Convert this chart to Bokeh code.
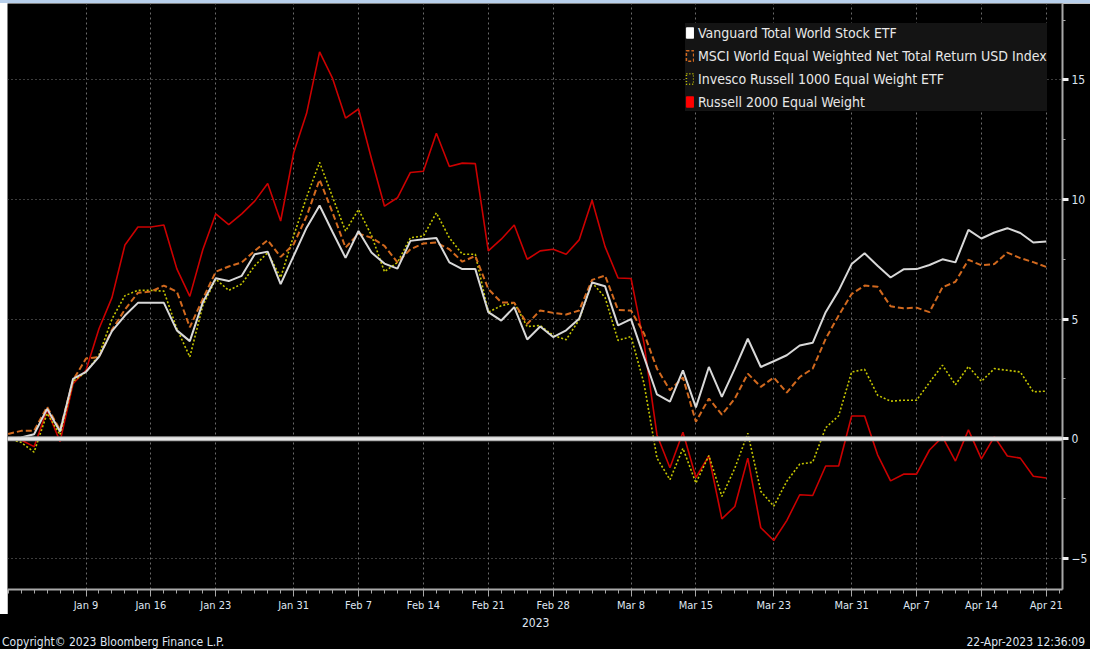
import pandas as pd
from bokeh.plotting import figure
from bokeh.layouts import column, row
from bokeh.models import Range1d, FixedTicker, Span, Legend, LegendItem, Div
from bokeh.embed import file_html
from bokeh.resources import INLINE

# ---------------- data ----------------
trade_dates = [d.strftime("%Y-%m-%d") for d in pd.bdate_range("2022-12-30", "2023-04-21")]

vanguard = [0.0, 0.05, 0.19, 1.25, 0.3, 2.5, 2.8, 3.42, 4.5, 5.15,
            5.68, 5.68, 5.68, 4.53, 4.08, 5.7, 6.71, 6.59, 6.81, 7.71,
            7.82, 6.46, 7.64, 8.82, 9.75, 8.64, 7.56, 8.68, 7.78, 7.32,
            7.11, 8.27, 8.34, 8.39, 7.37, 7.09, 7.09, 5.29, 4.94, 5.5,
            4.15, 4.69, 4.25, 4.53, 5.01, 6.53, 6.37, 4.74, 5.0, 3.42,
            1.85, 1.55, 2.86, 1.31, 3.0, 1.75, 2.93, 4.18, 3.0, 3.24,
            3.49, 3.9, 4.01, 5.29, 6.19, 7.3, 7.75, 7.23, 6.74, 7.08,
            7.09, 7.26, 7.5, 7.37, 8.73, 8.37, 8.62, 8.8, 8.6, 8.2, 8.24]

msci_eq = [0.2, 0.33, 0.33, 1.34, 0.37, 2.45, 3.35, 3.42, 4.55, 5.4,
           6.1, 6.15, 6.4, 6.15, 4.66, 5.84, 6.98, 7.2, 7.37, 7.85,
           8.3, 7.6, 8.13, 9.3, 10.83, 9.45, 7.99, 8.57, 8.4, 8.06,
           7.37, 7.92, 8.16, 8.2, 7.92, 7.4, 7.64, 6.26, 5.7, 5.68,
           4.8, 5.36, 5.26, 5.19, 5.36, 6.64, 6.82, 5.38, 5.36, 4.4,
           2.93, 2.03, 2.56, 0.71, 1.68, 1.01, 1.68, 2.72, 2.17, 2.56,
           1.93, 2.58, 2.93, 4.18, 5.15, 6.05, 6.4, 6.35, 5.54, 5.45,
           5.48, 5.29, 6.33, 6.56, 7.48, 7.25, 7.3, 7.78, 7.55, 7.38, 7.18]

invesco_r1000 = [0.0, -0.15, -0.56, 1.06, 0.16, 2.4, 2.79, 3.5, 5.0, 5.98,
                 6.2, 6.2, 6.17, 4.6, 3.42, 5.56, 6.67, 6.2, 6.47, 7.23,
                 7.78, 6.74, 8.48, 10.1, 11.55, 10.1, 8.68, 9.58, 8.5, 6.98,
                 7.37, 8.4, 8.47, 9.44, 8.4, 7.71, 7.71, 5.29, 5.56, 5.68,
                 4.69, 4.73, 4.32, 4.14, 4.97, 6.53, 5.9, 4.11, 4.27, 2.31,
                 -0.81, -1.71, -0.4, -1.85, -0.7, -2.41, -1.23, 0.23, -2.2, -2.82,
                 -1.78, -1.06, -0.98, 0.46, 0.96, 2.79, 2.9, 1.82, 1.57, 1.61,
                 1.61, 2.35, 3.07, 2.26, 3.02, 2.4, 2.93, 2.86, 2.79, 1.96, 1.99]

russell2000 = [0.0, -0.05, -0.33, 1.2, -0.12, 2.3, 2.86, 4.6, 5.9, 8.1,
               8.85, 8.85, 8.93, 7.1, 5.95, 7.9, 9.4, 8.95, 9.4, 9.93,
               10.67, 9.1, 11.94, 13.6, 16.17, 15.06, 13.4, 13.78, 11.7, 9.72,
               10.07, 11.13, 11.18, 12.77, 11.38, 11.52, 11.5, 7.85, 8.34, 8.93,
               7.5, 7.85, 7.92, 7.71, 8.31, 9.97, 8.03, 6.72, 6.7, 4.0,
               0.16, -1.21, 0.27, -1.62, -0.72, -3.35, -2.83, -0.81, -3.72, -4.25,
               -3.42, -2.34, -2.37, -1.14, -1.14, 0.95, 0.95, -0.67, -1.76, -1.48,
               -1.48, -0.47, 0.08, -0.93, 0.37, -0.84, 0.09, -0.72, -0.81, -1.57, -1.64]

tick_dates = ["2023-01-09", "2023-01-16", "2023-01-23", "2023-01-31", "2023-02-07",
              "2023-02-14", "2023-02-21", "2023-02-28", "2023-03-08", "2023-03-15",
              "2023-03-23", "2023-03-31", "2023-04-07", "2023-04-14", "2023-04-21"]
tick_labels = ["Jan 9", "Jan 16", "Jan 23", "Jan 31", "Feb 7", "Feb 14", "Feb 21",
               "Feb 28", "Mar 8", "Mar 15", "Mar 23", "Mar 31", "Apr 7", "Apr 14", "Apr 21"]

y_ticks = [-5, 0, 5, 10, 15]
y_minor = [-2.5, 2.5, 7.5, 12.5, 17.5]

series_names = ["Vanguard Total World Stock ETF",
                "MSCI World Equal Weighted Net Total Return USD Index",
                "Invesco Russell 1000 Equal Weight ETF",
                "Russell 2000 Equal Weight"]

year_label = "2023"
copyright_text = "Copyright\u00a9 2023 Bloomberg Finance L.P."
timestamp_text = "22-Apr-2023 12:36:09"

# ---------------- figure ----------------
FONT = "DejaVu Sans Condensed, Liberation Sans, sans-serif"
TXT = "#dfe5f0"
xs = list(range(len(trade_dates)))
tick_pos = [trade_dates.index(d) for d in tick_dates]

p = figure(width=1083, height=611,
           x_range=Range1d(-0.05, 81.25), y_range=Range1d(-6.30, 18.19),
           y_axis_location="right", toolbar_location=None, output_backend="svg",
           background_fill_color="black", border_fill_color="black",
           min_border_left=0, min_border_top=0, min_border_right=27, min_border_bottom=22,
           outline_line_color=None)

# lines
p.line(xs, russell2000, line_color="#cc0000", line_width=1.6)
p.line(xs, invesco_r1000, line_color="#c4c400", line_width=1.6, line_dash="2 2")
p.line(xs, msci_eq, line_color="#d2691e", line_width=2, line_dash="6 3")
p.line(xs, vanguard, line_color="#d8d8d8", line_width=2)

# zero line
p.add_layout(Span(location=0, dimension="width", line_color="#9c9c9c", line_width=5))
p.add_layout(Span(location=0, dimension="width", line_color="#e6e6e6", line_width=3))

# x axis
p.xaxis.ticker = FixedTicker(ticks=tick_pos, minor_ticks=xs + [81])
p.xaxis.major_label_overrides = {pos: lab for pos, lab in zip(tick_pos, tick_labels)}
p.xaxis.axis_line_color = "#a8a8a8"
p.xaxis.axis_line_width = 2
p.xaxis.major_tick_line_color = "#a8a8a8"
p.xaxis.minor_tick_line_color = "#a8a8a8"
p.xaxis.major_tick_out = 7
p.xaxis.major_tick_in = 0
p.xaxis.minor_tick_out = 4
p.xaxis.minor_tick_in = 0
p.xaxis.major_label_text_color = TXT
p.xaxis.major_label_text_font = FONT
p.xaxis.major_label_text_font_size = "11px"
p.xaxis.major_label_standoff = 2

# y axis (right)
p.yaxis.ticker = FixedTicker(ticks=y_ticks, minor_ticks=y_minor)
p.yaxis.axis_line_color = "#a8a8a8"
p.yaxis.axis_line_width = 2
p.yaxis.major_tick_line_color = "#f0f0f0"
p.yaxis.major_tick_line_width = 3
p.yaxis.major_tick_out = 6
p.yaxis.major_tick_in = 0
p.yaxis.minor_tick_line_color = "#a8a8a8"
p.yaxis.minor_tick_out = 3
p.yaxis.minor_tick_in = 0
p.yaxis.major_label_text_color = TXT
p.yaxis.major_label_text_font = FONT
p.yaxis.major_label_text_font_size = "12px"
p.yaxis.major_label_standoff = 3

# grids
p.xgrid.grid_line_color = "#6a6a6a"
p.xgrid.grid_line_dash = "2 3"
p.ygrid.grid_line_color = "#7a7a7a"
p.ygrid.grid_line_dash = "1 3"

# legend swatches (quads with no drawable extent, used only for the legend)
nan = [float("nan")]
sw_white = p.quad(left=nan, right=nan, top=nan, bottom=nan, fill_color="#ffffff", line_color="#ffffff")
sw_orange = p.quad(left=nan, right=nan, top=nan, bottom=nan, fill_alpha=0, line_color="#d2691e",
                   line_width=1.5, line_dash="3 2")
sw_yellow = p.quad(left=nan, right=nan, top=nan, bottom=nan, fill_alpha=0, line_color="#c4c400",
                   line_width=1.5, line_dash="1 2")
sw_red = p.quad(left=nan, right=nan, top=nan, bottom=nan, fill_color="#ff0000", line_color="#ff0000")

legend = Legend(items=[LegendItem(label=series_names[0], renderers=[sw_white]),
                       LegendItem(label=series_names[1], renderers=[sw_orange]),
                       LegendItem(label=series_names[2], renderers=[sw_yellow]),
                       LegendItem(label=series_names[3], renderers=[sw_red])],
                location=(678, 478), glyph_width=9, glyph_height=13, label_standoff=4,
                label_height=19, spacing=4, padding=9, margin=0,
                background_fill_color="#141414", background_fill_alpha=1,
                border_line_color=None, label_text_color="#e8e8e8",
                label_text_font=FONT, label_text_font_size="14px")
p.add_layout(legend, "center")

# frame decorations outside the figure: top strip, left strip, footer
top_strip = Div(width=1090, height=3, styles={"background-color": "#b8d0ec", "margin": "0"})
left_strip = Div(width=7, height=611, styles={"background-color": "white", "margin": "0"})
footer = Div(width=1090, height=35,
             styles={"background-color": "black", "color": TXT,
                     "font-family": FONT, "font-size": "12px", "margin": "0", "padding": "0"},
             text=(f'<div style="position:relative;width:1090px;height:35px;overflow:hidden;">'
                   f'<span style="position:absolute;left:522px;top:1px;">{year_label}</span>'
                   f'<span style="position:absolute;left:2px;top:20px;">{copyright_text}</span>'
                   f'<span style="position:absolute;right:5px;top:20px;">{timestamp_text}</span>'
                   f'</div>'))

layout = column(top_strip, row(left_strip, p, spacing=0), footer, spacing=0)
open("out.html", "w").write(file_html(layout, INLINE))
